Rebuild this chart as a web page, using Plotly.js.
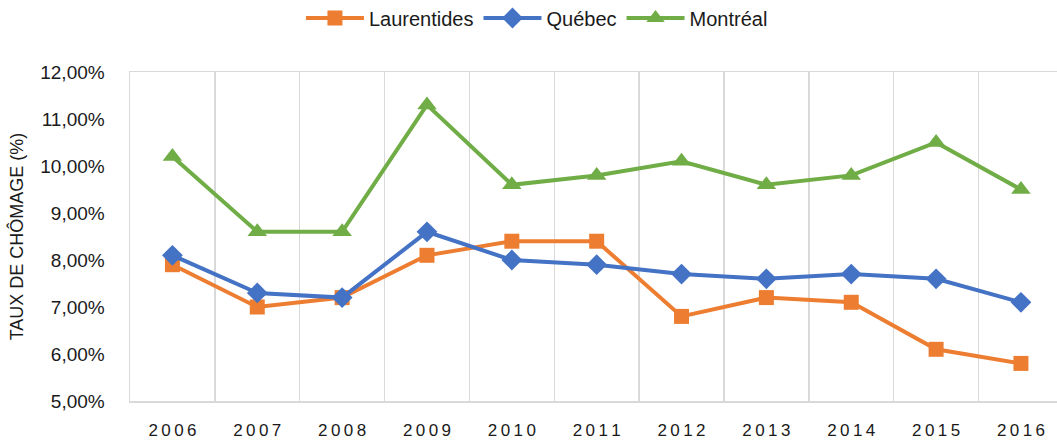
<!DOCTYPE html>
<html><head><meta charset="utf-8">
<script src="https://cdn.plot.ly/plotly-3.0.1.min.js"></script>
<style>html,body{margin:0;padding:0;background:#fff}#chart{width:1057px;height:440px}</style>
</head><body><div id="chart"></div>
<script>
const years = ["2006","2007","2008","2009","2010","2011","2012","2013","2014","2015","2016"];
const laurentides = [7.9, 7.0, 7.2, 8.1, 8.4, 8.4, 6.8, 7.2, 7.1, 6.1, 5.8];
const quebec = [8.1, 7.3, 7.2, 8.6, 8.0, 7.9, 7.7, 7.6, 7.7, 7.6, 7.1];
const montreal = [10.2, 8.6, 8.6, 11.3, 9.6, 9.8, 10.1, 9.6, 9.8, 10.5, 9.5];
const yTicks = [5, 6, 7, 8, 9, 10, 11, 12];
const yTickLabels = ["5,00%", "6,00%", "7,00%", "8,00%", "9,00%", "10,00%", "11,00%", "12,00%"];

const spaced = years.map(y => y.split("").join("\u2009"));

const traces = [
  {name: "Laurentides", y: laurentides, symbol: "square", color: "#ED7D31", size: 15},
  {name: "Québec", y: quebec, symbol: "diamond", color: "#4472C4", size: 16},
  {name: "Montréal", y: montreal, symbol: "triangle-up", color: "#70AD47", size: 17}
].map(t => ({
  type: "scatter", mode: "lines+markers", name: t.name,
  x: years, y: t.y,
  line: {color: t.color, width: 4},
  marker: {symbol: t.symbol, color: t.color, size: t.size},
  cliponaxis: false
}));

const layout = {
  width: 1057, height: 440,
  margin: {l: 130, r: 0, t: 72, b: 39},
  paper_bgcolor: "#fff", plot_bgcolor: "#fff",
  font: {family: "Liberation Sans, Arial, sans-serif", color: "#1a1a1a"},
  showlegend: true,
  legend: {orientation: "h", xref: "container", yref: "container", x: 0.508, xanchor: "center",
           y: 1 - 18/440, yanchor: "middle", font: {size: 20}, itemwidth: 58, traceorder: "normal"},
  xaxis: {type: "category", range: [-0.5, 10.425], tickson: "boundaries",
          tickvals: years, ticktext: spaced,
          showgrid: true, gridcolor: "#d9d9d9", gridwidth: 1.5,
          showline: true, linecolor: "#d9d9d9", linewidth: 1.5, mirror: true,
          ticks: "", ticklabelstandoff: 13, tickfont: {size: 17}, fixedrange: true},
  yaxis: {range: [5, 12], tickvals: yTicks, ticktext: yTickLabels,
          showgrid: false, zeroline: false, showline: true, linecolor: "#d9d9d9", linewidth: 1.5,
          ticks: "", ticklabelstandoff: 20, tickfont: {size: 19},
          title: {text: "TAUX DE CHÔMAGE (%)", font: {size: 18}, standoff: 12}}
};

Plotly.newPlot("chart", traces, layout, {displayModeBar: false, staticPlot: true});
</script></body></html>
